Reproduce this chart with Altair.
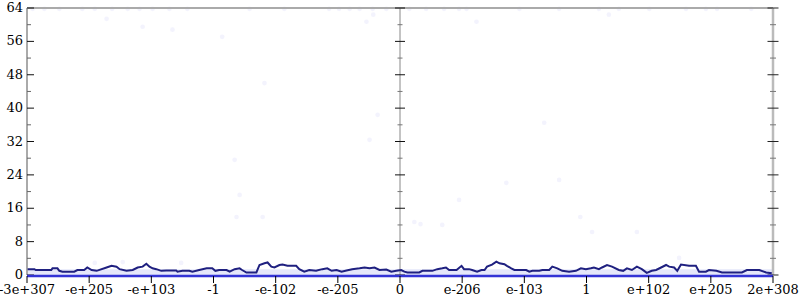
import altair as alt
import pandas as pd

# x positions are in "label slot" units: slot i carries tick label i
tick_labels = ["-3e+307", "-e+205", "-e+103", "-1", "-e-102", "-e-205", "0",
               "e-206", "e-103", "1", "e+102", "e+205", "2e+308"]
tick_pos = list(range(len(tick_labels)))
y_major = [0, 8, 16, 24, 32, 40, 48, 56, 64]
y_minor = [4, 12, 20, 28, 36, 44, 52, 60]
x_left, x_mid, x_right = 0, 6, 12
y_bottom, y_top = 0, 64
band_top = 1.4

line_x = [0.01, 0.12, 0.14, 0.39, 0.41, 0.49, 0.52, 0.57, 0.76, 0.81, 0.92, 0.97, 1.04, 1.12,
          1.28, 1.36, 1.44, 1.49, 1.60, 1.70, 1.78, 1.86, 1.92, 1.97, 2.02, 2.08, 2.16, 2.24,
          2.40, 2.42, 2.50, 2.61, 2.66, 2.77, 2.89, 2.98, 3.03, 3.09, 3.21, 3.26, 3.34, 3.42,
          3.46, 3.53, 3.69, 3.74, 3.82, 3.87, 3.93, 3.98, 4.06, 4.11, 4.19, 4.33, 4.38, 4.46,
          4.54, 4.65, 4.75, 4.83, 4.90, 4.98, 5.06, 5.14, 5.23, 5.35, 5.43, 5.51, 5.59, 5.67,
          5.78, 5.86, 5.94, 6.02, 6.07, 6.12, 6.31, 6.36, 6.52, 6.60, 6.68, 6.74, 6.79, 6.91,
          6.99, 7.03, 7.11, 7.16, 7.24, 7.31, 7.36, 7.40, 7.48, 7.55, 7.60, 7.68, 7.72, 7.79,
          7.84, 8.03, 8.08, 8.13, 8.24, 8.29, 8.40, 8.45, 8.53, 8.61, 8.72, 8.83, 8.91, 8.99,
          9.07, 9.12, 9.20, 9.25, 9.33, 9.41, 9.52, 9.59, 9.65, 9.73, 9.81, 9.89, 9.97, 10.05,
          10.12, 10.20, 10.28, 10.33, 10.41, 10.46, 10.52, 10.65, 10.76, 10.81, 10.92, 10.97,
          11.09, 11.18, 11.50, 11.58, 11.78, 11.89, 11.98]
line_y = [1.4, 1.4, 1.2, 1.2, 1.6, 1.6, 1.0, 0.8, 0.8, 1.2, 1.2, 1.8, 1.2, 1.0,
          1.8, 2.2, 2.0, 1.4, 1.0, 1.2, 1.8, 2.0, 2.7, 2.0, 1.6, 1.4, 1.0, 1.1,
          1.1, 0.8, 1.0, 1.0, 0.8, 1.2, 1.6, 1.6, 1.0, 1.2, 1.2, 0.8, 1.4, 1.6,
          1.2, 0.6, 0.6, 2.4, 2.8, 3.0, 2.0, 1.8, 2.4, 2.5, 2.2, 2.2, 1.4, 0.8,
          1.2, 1.0, 1.4, 1.6, 1.0, 1.2, 0.8, 1.1, 1.4, 1.6, 1.8, 1.6, 1.8, 1.2,
          1.3, 0.8, 1.0, 1.2, 0.8, 0.6, 0.6, 1.0, 1.0, 1.4, 1.6, 1.8, 1.2, 1.2,
          2.2, 1.4, 1.4, 1.2, 0.8, 1.2, 1.2, 2.0, 2.5, 3.2, 2.8, 2.6, 2.2, 1.6,
          1.2, 1.2, 0.8, 1.0, 1.0, 1.2, 1.2, 2.0, 1.6, 1.0, 0.8, 1.0, 1.6, 1.4,
          1.6, 1.8, 1.4, 1.8, 2.4, 2.0, 1.2, 1.0, 1.6, 1.2, 2.0, 1.4, 0.5, 1.0,
          1.2, 1.8, 2.4, 2.0, 1.8, 1.0, 2.5, 2.2, 2.2, 0.8, 0.8, 1.2,
          1.0, 0.6, 0.6, 1.2, 1.2, 0.6, 0.4]

dot_x = [0.09, 0.28, 0.52, 0.89, 1.09, 1.37, 1.62, 1.81, 2.02, 2.29, 2.58, 3.58, 4.14, 4.86,
         5.02, 5.19, 5.35, 5.56, 5.78, 6.15, 6.42, 6.71, 6.95, 7.07, 7.92, 8.56, 9.20, 9.52,
         10.01, 10.60, 10.92, 11.10, 11.65,
         1.28, 1.86, 2.34, 3.14, 3.82, 3.34, 3.42, 3.37, 3.79, 5.57, 5.46, 5.64, 5.51, 6.23,
         6.33, 6.68, 6.95, 7.23, 7.71, 8.32, 8.56, 8.90, 9.09, 9.81, 10.49, 1.09, 1.54, 2.48,
         9.36]
dot_y = [63.8] * 33 + [
         61.4, 59.5, 58.8, 57.1, 46.0, 27.6, 19.2, 13.9, 13.9, 62.4, 60.7, 38.4, 32.4, 12.7,
         12.2, 12.0, 18.0, 60.7, 22.1, 36.5, 22.8, 13.9, 10.3, 10.3, 4.1, 2.9, 3.1, 2.9,
         62.4]

line_df = pd.DataFrame({"x": line_x, "y": line_y})
dot_df = pd.DataFrame({"x": dot_x, "y": dot_y})
xlab_df = pd.DataFrame({"x": tick_pos, "label": tick_labels, "y": [y_bottom] * len(tick_pos)})
frame_df = pd.DataFrame({"x0": [x_left], "x1": [x_right], "y0": [y_bottom],
                         "y1": [y_top], "yb": [band_top], "xm": [x_mid]})


def tick_df(at, vals):
    return pd.DataFrame({"at": [at] * len(vals), "y": vals})


def ylab_df():
    return pd.DataFrame({"at": [x_left] * len(y_major), "y": y_major,
                         "label": [str(v) for v in y_major]})


xs = alt.Scale(domain=[0, 12], nice=False, zero=False)
ys = alt.Scale(domain=[0, 64], nice=False, zero=True)
FONT = "DejaVu Serif"
FSIZE = 13


def X(f):
    return alt.X(f, type="quantitative", scale=xs, axis=None)


def Y(f):
    return alt.Y(f, type="quantitative", scale=ys, axis=None)


band = alt.Chart(frame_df).mark_rect(color="#dcdff8", opacity=0.75).encode(
    x=X("x0"), x2="x1", y=Y("y0"), y2="yb")

dots = alt.Chart(dot_df).mark_circle(size=22, color="#9a9ef0", opacity=0.12).encode(
    x=X("x"), y=Y("y"))

top_rule = alt.Chart(frame_df).mark_rule(color="#aaaaaa", strokeWidth=2).encode(
    x=X("x0"), x2="x1", y=Y("y1"))
base_rule = alt.Chart(frame_df).mark_rule(color="#3333d6", strokeWidth=2.5, yOffset=1).encode(
    x=X("x0"), x2="x1", y=Y("y0"))
left_rule = alt.Chart(frame_df).mark_rule(color="#aaaaaa", strokeWidth=2).encode(
    x=X("x0"), y=Y("y0"), y2="y1")
mid_rule = alt.Chart(frame_df).mark_rule(color="#888888", strokeWidth=1).encode(
    x=X("xm"), y=Y("y0"), y2="y1")
right_rule = alt.Chart(frame_df).mark_rule(color="#bbbbbb", strokeWidth=2.5).encode(
    x=X("x1"), y=Y("y0"), y2="y1")


def ticks(at, vals, lo, hi, color):
    return alt.Chart(tick_df(at, vals)).mark_rule(
        color=color, strokeWidth=1, xOffset=lo, x2Offset=hi).encode(
        y=Y("y"), x=X("at"), x2="at")


tick_layers = [
    ticks(x_left, y_major, 0, 7, "#111111"),
    ticks(x_left, y_minor, 0, 4, "#666666"),
    ticks(x_mid, y_major, -5, 5, "#111111"),
    ticks(x_mid, y_minor, -2.5, 2.5, "#777777"),
    ticks(x_right, y_major, -5.5, 5.5, "#222222"),
    ticks(x_right, y_minor, -3, 3, "#777777"),
]

x_ticks = alt.Chart(xlab_df).mark_rule(color="#000000", strokeWidth=1,
                                       yOffset=1, y2Offset=8).encode(
    x=X("x"), y=Y("y"), y2="y")
x_labels = alt.Chart(xlab_df).mark_text(font=FONT, fontSize=FSIZE, color="#000000",
                                        baseline="top", align="center", dy=9).encode(
    x=X("x"), y=Y("y"), text="label:N")
y_labels = alt.Chart(ylab_df()).mark_text(font=FONT, fontSize=FSIZE, color="#000000",
                                          baseline="middle", align="right", dx=-4).encode(
    x=X("at"), y=Y("y"), text="label:N")

line = alt.Chart(line_df).mark_line(color="#1f2080", strokeWidth=2).encode(
    x=X("x"), y=Y("y"))

chart = alt.layer(band, dots, top_rule, left_rule, mid_rule, right_rule, *tick_layers,
                  base_rule, line, x_ticks, x_labels, y_labels).properties(
    width=746, height=267,
    autosize=alt.AutoSizeParams(type="none"),
    padding={"left": 27, "top": 8, "right": 27, "bottom": 25},
    background="white",
).configure_view(stroke=None)

chart.save("out.html", embed_options={"renderer": "svg", "actions": False})
